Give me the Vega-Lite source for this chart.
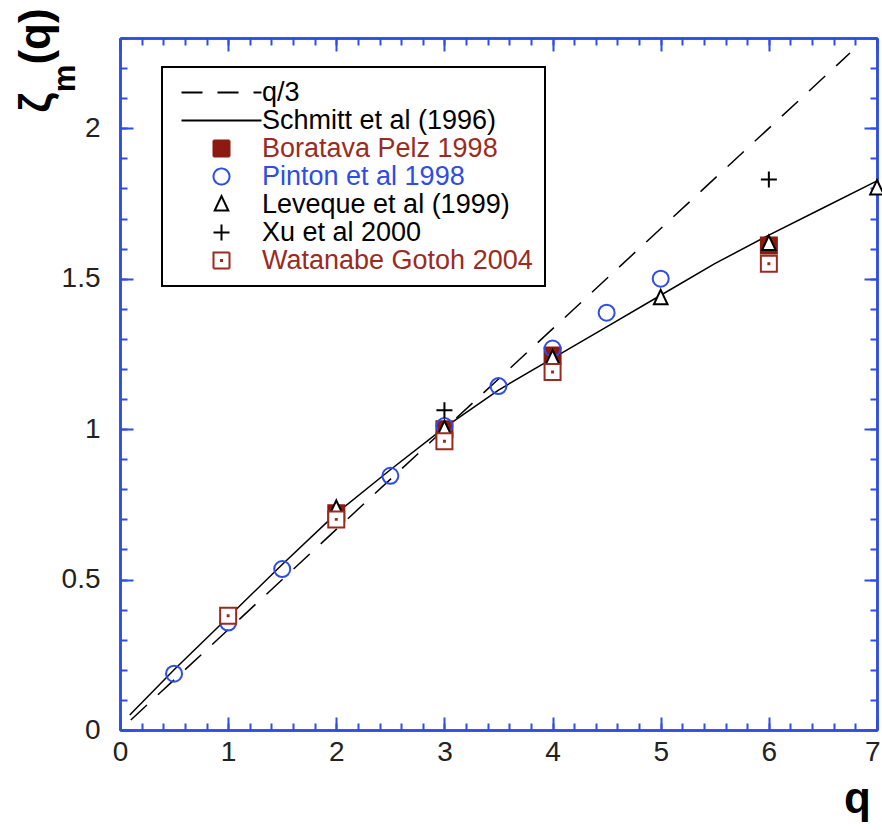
{
  "$schema": "https://vega.github.io/schema/vega-lite/v6.json",
  "width": 757,
  "height": 692,
  "autosize": {"type": "none"},
  "padding": {"left": 120, "top": 38, "right": 5, "bottom": 100},
  "background": "white",
  "config": {
    "view": {"stroke": null},
    "legend": {"strokeWidth": 2},
    "axis": {
      "domainColor": "#2e4ce6",
      "domainWidth": 2.5,
      "tickColor": "#2e4ce6",
      "tickWidth": 2,
      "grid": false,
      "labelFont": "Liberation Sans",
      "labelFontSize": 28,
      "labelColor": "#222222",
      "labelFlush": false,
      "labelOverlap": false,
      "titleFont": "Liberation Sans",
      "titleFontWeight": "bold",
      "titleColor": "black"
    }
  },
  "data": {
    "values": [
      {"series": "q/3", "q": 0.1, "z": 0.0333},
      {"series": "q/3", "q": 6.75, "z": 2.25},
      {"series": "Schmitt et al (1996)", "q": 0.09, "z": 0.05},
      {"series": "Schmitt et al (1996)", "q": 0.5, "z": 0.2},
      {"series": "Schmitt et al (1996)", "q": 1, "z": 0.375},
      {"series": "Schmitt et al (1996)", "q": 1.5, "z": 0.55},
      {"series": "Schmitt et al (1996)", "q": 2, "z": 0.72},
      {"series": "Schmitt et al (1996)", "q": 2.5, "z": 0.865},
      {"series": "Schmitt et al (1996)", "q": 3, "z": 1.005},
      {"series": "Schmitt et al (1996)", "q": 3.5, "z": 1.13},
      {"series": "Schmitt et al (1996)", "q": 4, "z": 1.235},
      {"series": "Schmitt et al (1996)", "q": 4.5, "z": 1.34},
      {"series": "Schmitt et al (1996)", "q": 5, "z": 1.445},
      {"series": "Schmitt et al (1996)", "q": 5.5, "z": 1.55},
      {"series": "Schmitt et al (1996)", "q": 6, "z": 1.645},
      {"series": "Schmitt et al (1996)", "q": 6.5, "z": 1.735},
      {"series": "Schmitt et al (1996)", "q": 7, "z": 1.825},
      {"series": "Boratava Pelz 1998", "q": 2, "z": 0.72},
      {"series": "Boratava Pelz 1998", "q": 3, "z": 1.0},
      {"series": "Boratava Pelz 1998", "q": 4, "z": 1.245},
      {"series": "Boratava Pelz 1998", "q": 6, "z": 1.61},
      {"series": "Pinton et al 1998", "q": 0.5, "z": 0.187},
      {"series": "Pinton et al 1998", "q": 1, "z": 0.357},
      {"series": "Pinton et al 1998", "q": 1.5, "z": 0.535},
      {"series": "Pinton et al 1998", "q": 2.5, "z": 0.845},
      {"series": "Pinton et al 1998", "q": 3, "z": 1.01},
      {"series": "Pinton et al 1998", "q": 3.5, "z": 1.143},
      {"series": "Pinton et al 1998", "q": 4, "z": 1.268},
      {"series": "Pinton et al 1998", "q": 4.5, "z": 1.387},
      {"series": "Pinton et al 1998", "q": 5, "z": 1.5},
      {"series": "Leveque et al (1999)", "q": 2, "z": 0.735},
      {"series": "Leveque et al (1999)", "q": 3, "z": 1.0},
      {"series": "Leveque et al (1999)", "q": 4, "z": 1.235},
      {"series": "Leveque et al (1999)", "q": 5, "z": 1.435},
      {"series": "Leveque et al (1999)", "q": 6, "z": 1.615},
      {"series": "Leveque et al (1999)", "q": 7, "z": 1.8},
      {"series": "Xu et al 2000", "q": 3, "z": 1.063},
      {"series": "Xu et al 2000", "q": 6, "z": 1.83},
      {"series": "Watanabe Gotoh 2004", "q": 1, "z": 0.38},
      {"series": "Watanabe Gotoh 2004", "q": 2, "z": 0.7},
      {"series": "Watanabe Gotoh 2004", "q": 3, "z": 0.96},
      {"series": "Watanabe Gotoh 2004", "q": 4, "z": 1.19},
      {"series": "Watanabe Gotoh 2004", "q": 6, "z": 1.55}
    ]
  },
  "resolve": {"axis": {"x": "independent", "y": "independent"}},
  "layer": [
    {
      "transform": [{"filter": "datum.series === 'q/3'"}],
      "mark": {"type": "line", "color": "black", "strokeWidth": 1.5, "strokeDash": [22, 15]},
      "encoding": {
        "x": {
          "field": "q", "type": "quantitative",
          "scale": {"domain": [0, 7], "nice": false, "zero": false},
          "axis": {
            "orient": "bottom", "values": [0, 1, 2, 3, 4, 5, 6, 7], "format": "d",
            "tickSize": -13, "labelPadding": 21,
            "labelAlign": {"condition": {"test": "datum.value === 7", "value": "right"}, "value": "center"},
            "labelOffset": {"condition": {"test": "datum.value === 7", "value": 3}, "value": 0},
            "title": "q", "titleFontSize": 44, "titleX": 737, "titleY": 82,
            "titleAlign": "center", "titleBaseline": "alphabetic", "titleAngle": 0
          }
        },
        "y": {
          "field": "z", "type": "quantitative",
          "scale": {"domain": [0, 2.3], "nice": false, "zero": false},
          "axis": {
            "orient": "left", "values": [0, 0.5, 1, 1.5, 2], "format": "~g",
            "tickSize": -13, "labelPadding": 33,
            "title": "ζ", "titleFontSize": 44, "titleAngle": -90, "titleX": -84, "titleY": 64,
            "titleAlign": "center", "titleBaseline": "middle"
          }
        }
      }
    },
    {
      "transform": [{"filter": "datum.series === 'Schmitt et al (1996)'"}],
      "mark": {"type": "line", "color": "black", "strokeWidth": 1.5},
      "encoding": {
        "x": {
          "field": "q", "type": "quantitative",
          "scale": {"domain": [0, 7], "nice": false, "zero": false},
          "axis": {
            "orient": "bottom",
            "values": [0, 0.2, 0.4, 0.6, 0.8, 1, 1.2, 1.4, 1.6, 1.8, 2, 2.2, 2.4, 2.6, 2.8, 3, 3.2, 3.4, 3.6, 3.8, 4, 4.2, 4.4, 4.6, 4.8, 5, 5.2, 5.4, 5.6, 5.8, 6, 6.2, 6.4, 6.6, 6.8, 7],
            "tickSize": -7, "labels": false, "title": null
          }
        },
        "y": {
          "field": "z", "type": "quantitative",
          "scale": {"domain": [0, 2.3], "nice": false, "zero": false},
          "axis": {
            "orient": "left",
            "values": [0, 0.1, 0.2, 0.3, 0.4, 0.5, 0.6, 0.7, 0.8, 0.9, 1, 1.1, 1.2, 1.3, 1.4, 1.5, 1.6, 1.7, 1.8, 1.9, 2, 2.1, 2.2, 2.3],
            "tickSize": -7, "labels": false,
            "title": "m", "titleFontSize": 31, "titleAngle": -90, "titleX": -55, "titleY": 40,
            "titleAlign": "center", "titleBaseline": "middle"
          }
        }
      }
    },
    {
      "transform": [{"filter": "datum.series === 'Boratava Pelz 1998' || datum.series === 'Pinton et al 1998'"}],
      "mark": {"type": "point", "size": 256, "strokeWidth": 2, "opacity": 1},
      "encoding": {
        "x": {
          "field": "q", "type": "quantitative",
          "scale": {"domain": [0, 7], "nice": false, "zero": false},
          "axis": {
            "orient": "top", "values": [0, 1, 2, 3, 4, 5, 6, 7],
            "tickSize": -13, "labels": false,
            "title": "(q)", "titleFontSize": 44, "titleAngle": -90, "titleX": -84, "titleY": -2,
            "titleAlign": "center", "titleBaseline": "middle"
          }
        },
        "y": {
          "field": "z", "type": "quantitative",
          "scale": {"domain": [0, 2.3], "nice": false, "zero": false},
          "axis": {
            "orient": "right", "values": [0, 0.5, 1, 1.5, 2],
            "tickSize": -13, "labels": false, "title": null
          }
        },
        "shape": {
          "field": "series", "type": "nominal",
          "scale": {
            "domain": ["q/3", "Schmitt et al (1996)", "Boratava Pelz 1998", "Pinton et al 1998", "Leveque et al (1999)", "Xu et al 2000", "Watanabe Gotoh 2004"],
            "range": ["M-5,0H5", "M-5,0H5", "M-1,-1H1V1H-1Z", "circle", "M0,-1.05L0.85,0.75H-0.85Z", "M-1,0H1M0,-1V1", "M-1,-1H1V1H-1ZM-0.06,-0.06H0.06V0.06H-0.06Z"]
          },
          "legend": {
            "orient": "none", "legendX": 42, "legendY": 29, "title": null,
            "padding": 12, "strokeColor": "black", "fillColor": "white",
            "labelFont": "Liberation Sans", "labelFontSize": 27,
            "labelColor": {"expr": "datum.value === 'Boratava Pelz 1998' || datum.value === 'Watanabe Gotoh 2004' ? '#9b2b22' : (datum.value === 'Pinton et al 1998' ? '#2e4ce6' : 'black')"},
            "symbolDash": {"expr": "datum.value === 'q/3' ? [21, 15] : [1, 0]"},
            "labelLimit": 500, "labelOffset": 27, "symbolOffset": 34,
            "symbolSize": 256, "symbolStrokeWidth": 2, "symbolOpacity": 1,
            "rowPadding": 0
          }
        },
        "stroke": {
          "field": "series", "type": "nominal",
          "scale": {
            "domain": ["q/3", "Schmitt et al (1996)", "Boratava Pelz 1998", "Pinton et al 1998", "Leveque et al (1999)", "Xu et al 2000", "Watanabe Gotoh 2004"],
            "range": ["black", "black", "#8c1a10", "#2e4ce6", "black", "black", "#9b2b1f"]
          }
        },
        "fill": {
          "field": "series", "type": "nominal",
          "scale": {
            "domain": ["q/3", "Schmitt et al (1996)", "Boratava Pelz 1998", "Pinton et al 1998", "Leveque et al (1999)", "Xu et al 2000", "Watanabe Gotoh 2004"],
            "range": ["transparent", "transparent", "#8c1a10", "transparent", "white", "transparent", "white"]
          }
        }
      }
    },
    {
      "transform": [{"filter": "datum.series === 'Leveque et al (1999)' || datum.series === 'Xu et al 2000' || datum.series === 'Watanabe Gotoh 2004'"}],
      "mark": {"type": "point", "size": 256, "strokeWidth": 2, "opacity": 1},
      "encoding": {
        "x": {
          "field": "q", "type": "quantitative",
          "scale": {"domain": [0, 7], "nice": false, "zero": false},
          "axis": {
            "orient": "top",
            "values": [0, 0.2, 0.4, 0.6, 0.8, 1, 1.2, 1.4, 1.6, 1.8, 2, 2.2, 2.4, 2.6, 2.8, 3, 3.2, 3.4, 3.6, 3.8, 4, 4.2, 4.4, 4.6, 4.8, 5, 5.2, 5.4, 5.6, 5.8, 6, 6.2, 6.4, 6.6, 6.8, 7],
            "tickSize": -7, "labels": false, "title": null
          }
        },
        "y": {
          "field": "z", "type": "quantitative",
          "scale": {"domain": [0, 2.3], "nice": false, "zero": false},
          "axis": {
            "orient": "right",
            "values": [0, 0.1, 0.2, 0.3, 0.4, 0.5, 0.6, 0.7, 0.8, 0.9, 1, 1.1, 1.2, 1.3, 1.4, 1.5, 1.6, 1.7, 1.8, 1.9, 2, 2.1, 2.2, 2.3],
            "tickSize": -7, "labels": false, "title": null
          }
        },
        "shape": {"field": "series", "type": "nominal", "legend": null},
        "stroke": {"field": "series", "type": "nominal", "legend": null},
        "fill": {"field": "series", "type": "nominal", "legend": null}
      }
    }
  ]
}
